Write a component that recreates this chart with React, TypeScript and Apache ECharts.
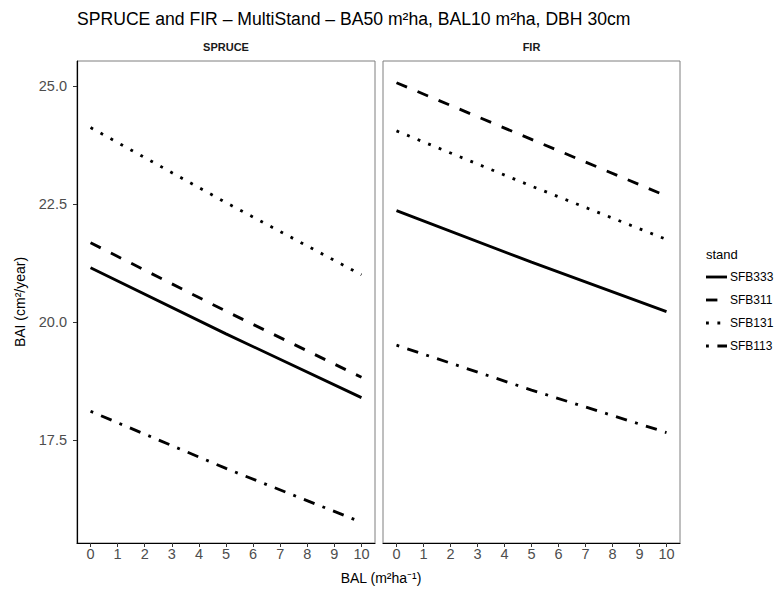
import React, { useEffect, useRef } from "react";
import * as echarts from "echarts";

// ---- data ----
const balValues = [0, 5, 10];
const xTicks = [0, 1, 2, 3, 4, 5, 6, 7, 8, 9, 10];
const yTicks = [17.5, 20, 22.5, 25];
const stands = ["SFB333", "SFB311", "SFB131", "SFB113"];
const panels = ["SPRUCE", "FIR"];

const spruceSFB333 = [21.15, 19.75, 18.4];
const spruceSFB311 = [21.68, 20.23, 18.83];
const spruceSFB131 = [24.12, 22.53, 21.0];
const spruceSFB113 = [18.11, 16.9, 15.76];

const firSFB333 = [22.36, 21.27, 20.22];
const firSFB311 = [25.07, 23.87, 22.67];
const firSFB131 = [24.05, 22.88, 21.75];
const firSFB113 = [19.51, 18.56, 17.66];

const spruceSeries = [spruceSFB333, spruceSFB311, spruceSFB131, spruceSFB113];
const firSeries = [firSFB333, firSFB311, firSFB131, firSFB113];

const U = 2.85;
const dashTypes: any[] = [
  "solid",
  [4 * U, 4 * U],
  [U, 3 * U],
  [U, 3 * U, 4 * U, 3 * U],
];

const FONT = "Liberation Sans, Arial, Helvetica, sans-serif";

export default function App() {
  const ref = useRef<HTMLDivElement>(null);
  useEffect(() => {
    if (!ref.current) return;
    const chart = echarts.init(ref.current, undefined, { renderer: "svg" });

    const mkX = (gi: number) => ({
      type: "value",
      gridIndex: gi,
      min: -0.5,
      max: 10.5,
      axisLine: { show: true, onZero: false, lineStyle: { color: "#000", width: 1.2 } },
      axisTick: { show: true, length: 4, customValues: xTicks, lineStyle: { color: "#333" } },
      axisLabel: {
        show: true,
        customValues: xTicks,
        color: "#4d4d4d",
        fontSize: 14.5,
        fontFamily: FONT,
        margin: 3,
      },
      splitLine: { show: false },
    });
    const mkY = (gi: number) => ({
      type: "value",
      gridIndex: gi,
      min: 15.32,
      max: 25.53,
      axisLine: { show: gi === 0, onZero: false, lineStyle: { color: "#000", width: 1.2 } },
      axisTick: { show: gi === 0, length: 4, customValues: yTicks, lineStyle: { color: "#333" } },
      axisLabel: {
        show: gi === 0,
        customValues: yTicks,
        color: "#4d4d4d",
        fontSize: 14.5,
        fontFamily: FONT,
        margin: 10,
        formatter: (v: number) => v.toFixed(1),
      },
      splitLine: { show: false },
    });

    const series: any[] = [];
    [spruceSeries, firSeries].forEach((group, gi) => {
      group.forEach((vals, si) => {
        series.push({
          type: "line",
          name: stands[si],
          xAxisIndex: gi,
          yAxisIndex: gi,
          symbol: "none",
          data: balValues.map((b, i) => [b, vals[i]]),
          lineStyle: { color: "#000", width: U, type: dashTypes[si], cap: "butt" },
          itemStyle: { color: "#000" },
        });
      });
    });

    const legendRowsY = [277, 300, 323, 346];
    const legendGraphics: any[] = [];
    stands.forEach((s, i) => {
      const y = legendRowsY[i];
      legendGraphics.push({
        type: "line",
        shape: { x1: 706, y1: y, x2: 727, y2: y },
        style: {
          stroke: "#000",
          lineWidth: U,
          lineDash: dashTypes[i] === "solid" ? null : dashTypes[i],
          lineCap: "butt",
        },
      });
      legendGraphics.push({
        type: "text",
        x: 730,
        y,
        style: { text: s, fill: "#000", font: `12px ${FONT}`, textAlign: "left", textVerticalAlign: "middle" },
      });
    });

    chart.setOption({
      animation: false,
      backgroundColor: "#fff",
      textStyle: { fontFamily: FONT },
      title: {
        text: "SPRUCE and FIR \u2013 MultiStand \u2013 BA50 m\u00b2ha, BAL10 m\u00b2ha, DBH 30cm",
        left: 72,
        top: 5,
        textStyle: { fontSize: 17.6, fontWeight: "normal", color: "#000", fontFamily: FONT },
      },
      grid: [
        { left: 77, top: 61, width: 298, height: 482, show: true, borderColor: "#7f7f7f", borderWidth: 1, backgroundColor: "#fff" },
        { left: 383, top: 61, width: 297, height: 482, show: true, borderColor: "#7f7f7f", borderWidth: 1, backgroundColor: "#fff" },
      ],
      xAxis: [mkX(0), mkX(1)],
      yAxis: [mkY(0), mkY(1)],
      graphic: [
        {
          type: "text",
          x: 226,
          y: 47,
          style: { text: panels[0], fill: "#1a1a1a", font: `bold 11px ${FONT}`, textAlign: "center", textVerticalAlign: "middle" },
        },
        {
          type: "text",
          x: 531.5,
          y: 47,
          style: { text: panels[1], fill: "#1a1a1a", font: `bold 11px ${FONT}`, textAlign: "center", textVerticalAlign: "middle" },
        },
        {
          type: "text",
          x: 381,
          y: 578,
          style: { text: "BAL (m\u00b2ha\u207b\u00b9)", fill: "#000", font: `14px ${FONT}`, textAlign: "center", textVerticalAlign: "middle" },
        },
        {
          type: "text",
          x: 20,
          y: 302,
          rotation: Math.PI / 2,
          style: { text: "BAI (cm\u00b2/year)", fill: "#000", font: `14px ${FONT}`, textAlign: "center", textVerticalAlign: "middle" },
        },
        {
          type: "text",
          x: 706,
          y: 254,
          style: { text: "stand", fill: "#000", font: `13px ${FONT}`, textAlign: "left", textVerticalAlign: "middle" },
        },
        ...legendGraphics,
      ],
      series,
    });
    return () => chart.dispose();
  }, []);
  return (
    <div
      ref={ref}
      style={{ position: "fixed", left: 0, top: 0, width: 775, height: 595, background: "#fff" }}
    />
  );
}
